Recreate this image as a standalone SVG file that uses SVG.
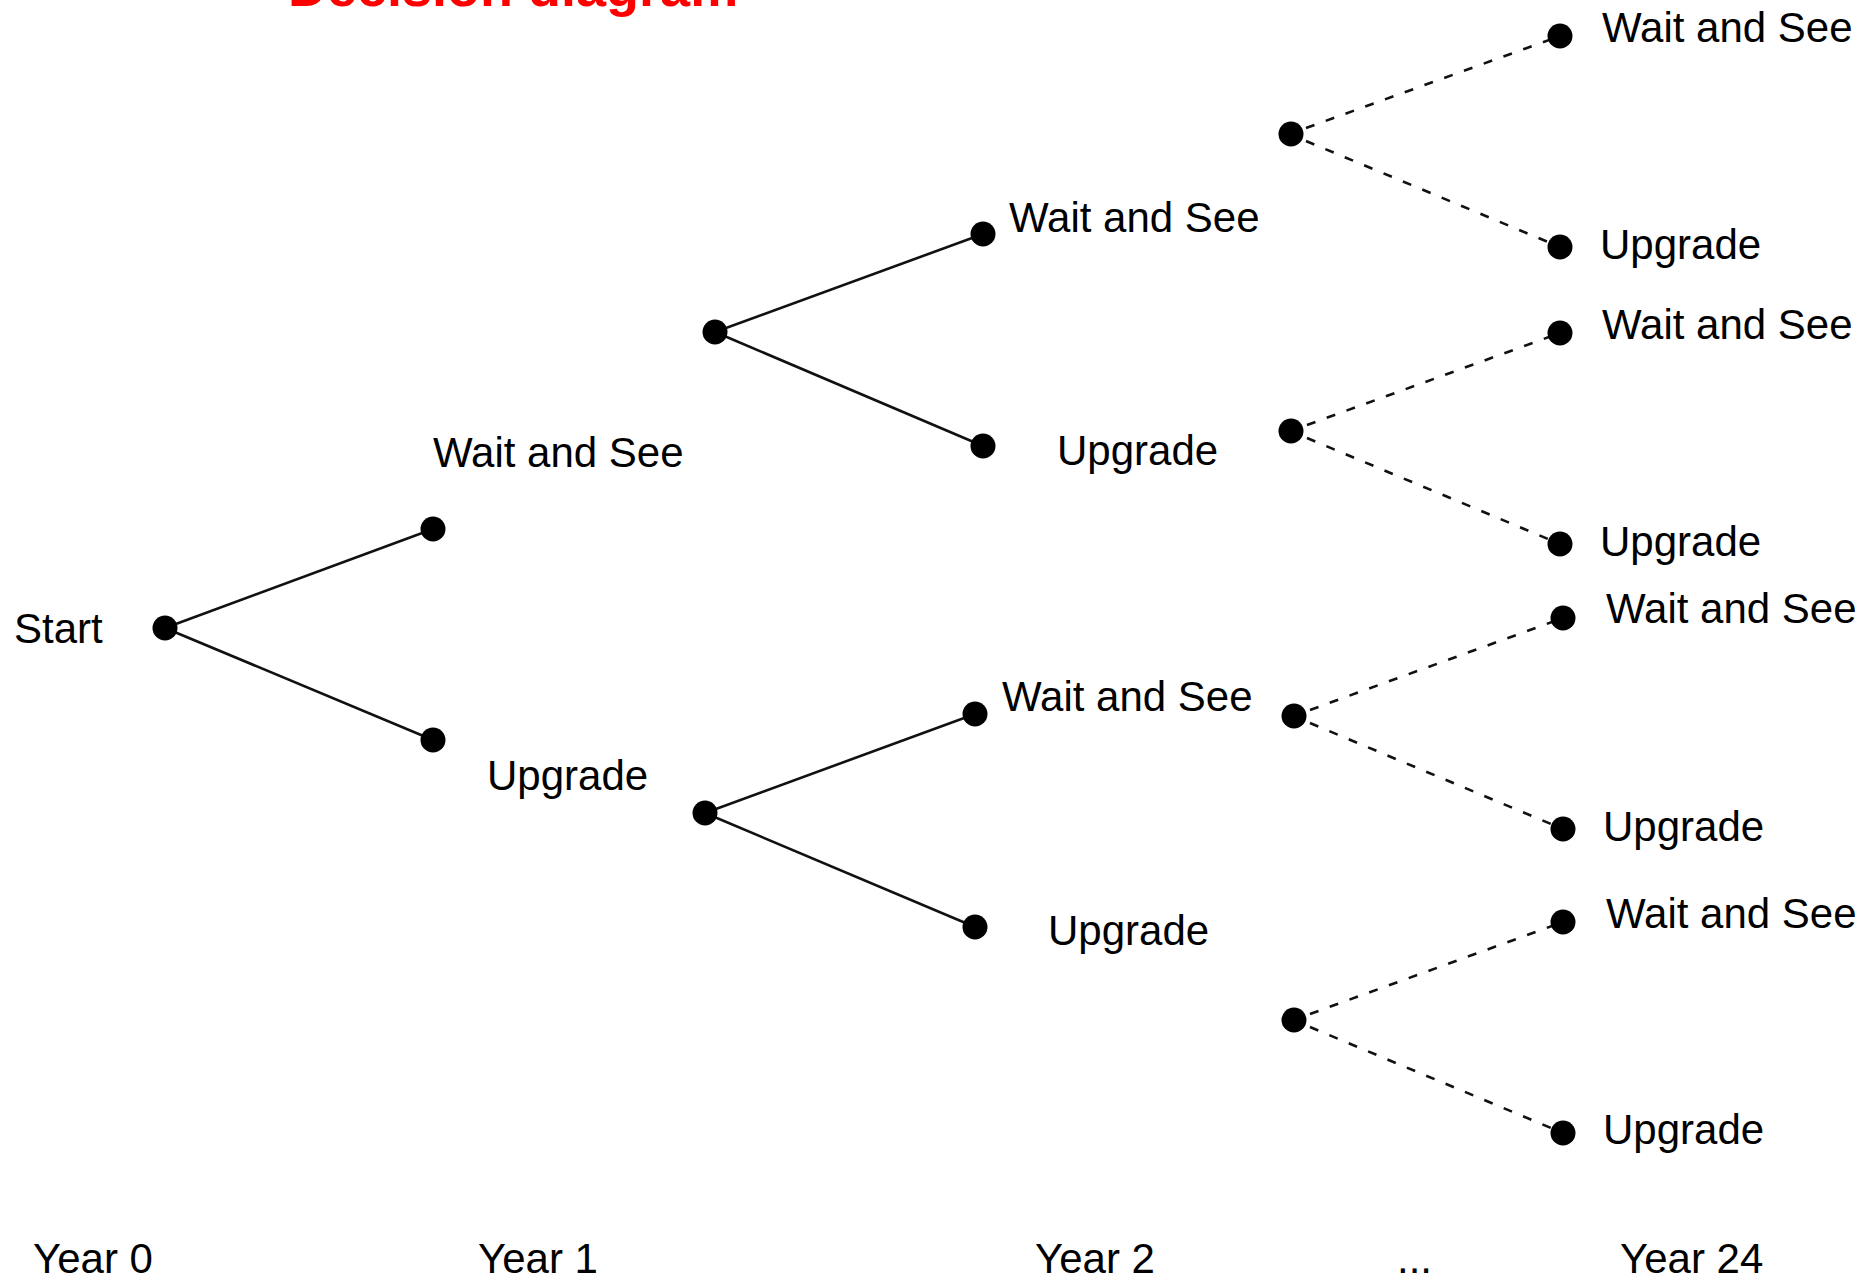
<svg xmlns="http://www.w3.org/2000/svg" width="1873" height="1279" viewBox="0 0 1873 1279">
<style>
.t{font-family:"Liberation Sans",Arial,sans-serif;font-size:42px;fill:#000}
.title{font-family:"Liberation Sans",Arial,sans-serif;font-size:54px;font-weight:bold;fill:#ff0000}
.solid{stroke:#111;stroke-width:2.6;fill:none}
.dash{stroke:#111;stroke-width:2.6;fill:none;stroke-dasharray:9 12}
.n{fill:#000}
</style>
<rect width="1873" height="1279" fill="#fff"/>
<text class="title" x="288" y="6">Decision diagram</text>
<g id="connectors">
<line class="solid" x1="165" y1="628" x2="433" y2="529"/>
<line class="solid" x1="165" y1="628" x2="433" y2="740"/>
<line class="solid" x1="715" y1="332" x2="983" y2="234"/>
<line class="solid" x1="715" y1="332" x2="983" y2="446"/>
<line class="solid" x1="705" y1="813" x2="975" y2="714"/>
<line class="solid" x1="705" y1="813" x2="975" y2="927"/>
<line class="dash" x1="1306" y1="128" x2="1560" y2="36"/>
<line class="dash" x1="1306" y1="141" x2="1560" y2="247"/>
<line class="dash" x1="1307" y1="425" x2="1560" y2="333"/>
<line class="dash" x1="1307" y1="438" x2="1560" y2="544"/>
<line class="dash" x1="1310" y1="710" x2="1563" y2="618"/>
<line class="dash" x1="1310" y1="723" x2="1563" y2="829"/>
<line class="dash" x1="1310" y1="1014" x2="1563" y2="922"/>
<line class="dash" x1="1310" y1="1027" x2="1563" y2="1133"/>
</g>
<g id="start"><circle class="n" cx="165" cy="628" r="12.5"/><text class="t" x="14" y="643">Start</text></g>
<g id="y1-wait"><circle class="n" cx="433" cy="529" r="12.5"/><text class="t" x="433" y="467">Wait and See</text></g>
<g id="y1-upgrade"><circle class="n" cx="433" cy="740" r="12.5"/><text class="t" x="487" y="790">Upgrade</text></g>
<g id="y2a"><circle class="n" cx="715" cy="332" r="12.5"/></g>
<g id="y2a-wait"><circle class="n" cx="983" cy="234" r="12.5"/><text class="t" x="1009" y="232">Wait and See</text></g>
<g id="y2a-upgrade"><circle class="n" cx="983" cy="446" r="12.5"/><text class="t" x="1057" y="465">Upgrade</text></g>
<g id="y2b"><circle class="n" cx="705" cy="813" r="12.5"/></g>
<g id="y2b-wait"><circle class="n" cx="975" cy="714" r="12.5"/><text class="t" x="1002" y="711">Wait and See</text></g>
<g id="y2b-upgrade"><circle class="n" cx="975" cy="927" r="12.5"/><text class="t" x="1048" y="945">Upgrade</text></g>
<g id="y3a"><circle class="n" cx="1291" cy="134" r="12.5"/></g>
<g id="y3a-wait"><circle class="n" cx="1560" cy="36" r="12.5"/><text class="t" x="1602" y="42">Wait and See</text></g>
<g id="y3a-upgrade"><circle class="n" cx="1560" cy="247" r="12.5"/><text class="t" x="1600" y="259">Upgrade</text></g>
<g id="y3b"><circle class="n" cx="1291" cy="431" r="12.5"/></g>
<g id="y3b-wait"><circle class="n" cx="1560" cy="333" r="12.5"/><text class="t" x="1602" y="339">Wait and See</text></g>
<g id="y3b-upgrade"><circle class="n" cx="1560" cy="544" r="12.5"/><text class="t" x="1600" y="556">Upgrade</text></g>
<g id="y3c"><circle class="n" cx="1294" cy="716" r="12.5"/></g>
<g id="y3c-wait"><circle class="n" cx="1563" cy="618" r="12.5"/><text class="t" x="1606" y="623">Wait and See</text></g>
<g id="y3c-upgrade"><circle class="n" cx="1563" cy="829" r="12.5"/><text class="t" x="1603" y="841">Upgrade</text></g>
<g id="y3d"><circle class="n" cx="1294" cy="1020" r="12.5"/></g>
<g id="y3d-wait"><circle class="n" cx="1563" cy="922" r="12.5"/><text class="t" x="1606" y="928">Wait and See</text></g>
<g id="y3d-upgrade"><circle class="n" cx="1563" cy="1133" r="12.5"/><text class="t" x="1603" y="1144">Upgrade</text></g>
<g id="years">
<text class="t" x="33" y="1273">Year 0</text>
<text class="t" x="478" y="1273">Year 1</text>
<text class="t" x="1035" y="1273">Year 2</text>
<text class="t" x="1397" y="1273">...</text>
<text class="t" x="1620" y="1273">Year 24</text>
</g>
</svg>
